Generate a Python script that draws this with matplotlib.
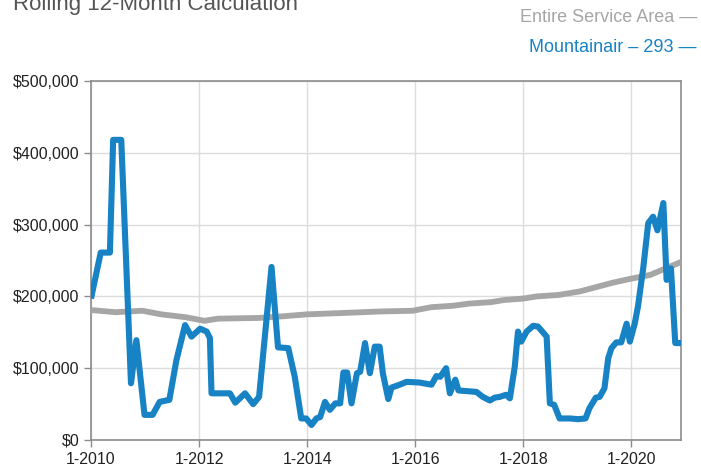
# Rolling 12-month calculation: Mountainair vs entire service area
import matplotlib.pyplot as plt
import matplotlib.ticker as mticker

plt.rcParams['font.family'] = ['Liberation Sans', 'DejaVu Sans']

# Data (decimal year, value in dollars)
area_years = [2010.0, 2010.45, 2010.95, 2011.3, 2011.75, 2012.1, 2012.35, 2013.1,
              2013.5, 2014.0, 2014.7, 2015.35, 2015.95, 2016.3, 2016.7, 2017.0,
              2017.4, 2017.65, 2018.0, 2018.25, 2018.65, 2019.05, 2019.35,
              2019.65, 2019.95, 2020.35, 2020.6, 2020.92]
area_values = [181, 178, 180, 175, 171, 166, 169, 170, 172, 175, 177, 179, 180,
               185, 187, 190, 192, 195, 197, 200, 202, 207, 213, 219, 224, 230,
               238, 248]

town_years = [2010.0, 2010.18, 2010.35, 2010.41, 2010.56, 2010.74, 2010.84, 2010.99,
              2011.14, 2011.27, 2011.45, 2011.58, 2011.74, 2011.86, 2012.02, 2012.14,
              2012.2, 2012.23, 2012.57, 2012.67, 2012.85, 2013.0, 2013.11, 2013.34,
              2013.46, 2013.65, 2013.77, 2013.89, 2013.98, 2014.08, 2014.17, 2014.24,
              2014.33, 2014.42, 2014.52, 2014.61, 2014.67, 2014.74, 2014.82, 2014.92,
              2014.98, 2015.07, 2015.16, 2015.25, 2015.34, 2015.4, 2015.5, 2015.56,
              2015.71, 2015.84, 2016.08, 2016.3, 2016.39, 2016.46, 2016.57, 2016.64,
              2016.74, 2016.8, 2017.13, 2017.25, 2017.38, 2017.47, 2017.56, 2017.68,
              2017.75, 2017.84, 2017.9, 2017.96, 2018.06, 2018.18, 2018.27, 2018.43,
              2018.49, 2018.57, 2018.67, 2018.86, 2019.01, 2019.15, 2019.22, 2019.34,
              2019.41, 2019.5, 2019.57, 2019.63, 2019.72, 2019.81, 2019.91, 2019.97,
              2020.06, 2020.12, 2020.22, 2020.31, 2020.4, 2020.48, 2020.59, 2020.65,
              2020.73, 2020.81, 2020.92]
town_values = [197, 261, 261, 418, 418, 79, 139, 35, 35, 53, 56, 111, 160, 144, 155,
               151, 142, 65, 65, 52, 65, 50, 60, 241, 129, 128, 88, 30, 30, 21, 30,
               32, 53, 42, 51, 51, 94, 94, 51, 93, 95, 135, 93, 130, 130, 93, 57, 73,
               77, 81, 80, 77, 89, 88, 100, 65, 84, 69, 67, 60, 55, 59, 60, 63, 58,
               102, 151, 137, 151, 159, 158, 144, 51, 49, 30, 30, 29, 30, 44, 59, 60,
               72, 114, 128, 136, 136, 162, 137, 162, 186, 241, 302, 311, 292, 330,
               223, 239, 135, 135]

tick_years = [2010, 2012, 2014, 2016, 2018, 2020]
tick_labels = ['1-2010', '1-2012', '1-2014', '1-2016', '1-2018', '1-2020']

GRAY = '#a6a6a6'
BLUE = '#1782c4'

fig = plt.figure(figsize=(7.01, 4.66), dpi=100)
ax = fig.add_axes([0.1298, 0.0558, 0.8417, 0.7704])

ax.plot(area_years, [v * 1000 for v in area_values], color=GRAY, lw=4.2,
        solid_joinstyle='round', solid_capstyle='butt', zorder=3)
ax.plot(town_years, [v * 1000 for v in town_values], color=BLUE, lw=4.4,
        solid_joinstyle='round', solid_capstyle='butt', zorder=4)

ax.set_xlim(2010, 2010 + 131 / 12)
ax.set_ylim(0, 500000)
ax.set_xticks(tick_years)
ax.set_xticklabels(tick_labels)
ax.yaxis.set_major_locator(mticker.MultipleLocator(100000))
ax.yaxis.set_major_formatter(mticker.FuncFormatter(lambda v, p: '${:,.0f}'.format(v)))

ax.grid(True, color='#dcdcdc', lw=1.0, zorder=0)
for s in ax.spines.values():
    s.set_color('#8c8c8c')
    s.set_linewidth(1.2)
ax.tick_params(axis='both', colors='#8c8c8c', labelcolor='#222222', labelsize=11.5,
               length=5, width=1.0)
ax.tick_params(axis='x', pad=4)

# title sits partly above the top edge, as in the source image
fig.text(0.018, 0.968, 'Rolling 12-Month Calculation', fontsize=16, color='#555555',
         ha='left', va='bottom')
fig.text(0.994, 0.963, 'Entire Service Area \u2014', fontsize=13, color=GRAY,
         ha='right', va='center')
fig.text(0.994, 0.897, 'Mountainair \u2013 293 \u2014', fontsize=13, color=BLUE,
         ha='right', va='center')

fig.savefig('out.png', dpi=100)
